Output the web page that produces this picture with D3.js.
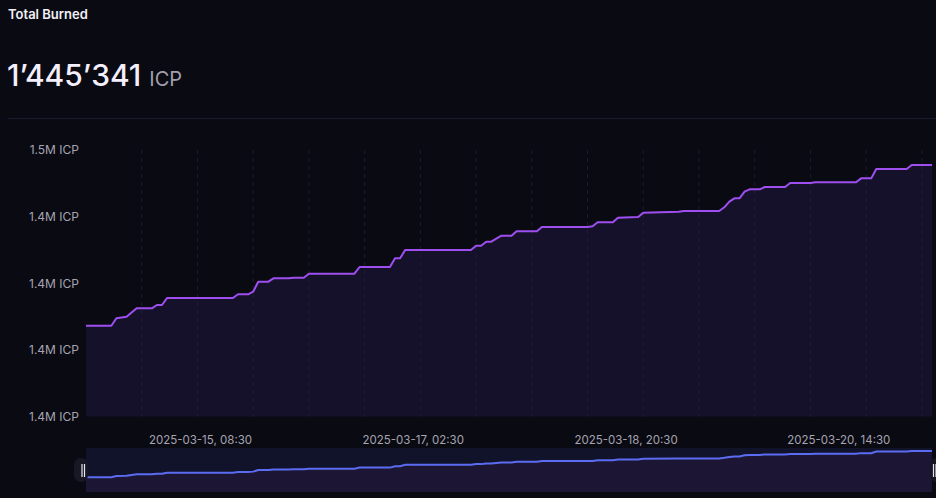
<!DOCTYPE html>
<html>
<head>
<meta charset="utf-8">
<script src="https://cdn.jsdelivr.net/npm/d3@7"></script>
<style>
    html, body { margin: 0; padding: 0; background: #0a0a13; }
    svg { display: block; font-family: Inter, "Noto Sans", sans-serif; }
</style>
</head>
<body>
<div id="chart"></div>
<script>
// hours after 2025-03-14 10:00 where the burned total changes
const hours = [0, 5, 6, 8, 10, 13, 14, 15, 16, 29, 30, 32, 33, 34, 36, 37, 40, 41, 43, 44,
    53, 54, 60, 61, 62, 63, 76, 77, 78, 79, 80, 82, 84, 85, 89, 90, 99, 100, 101, 104,
    105, 109, 110, 117, 118, 125, 126, 127, 128, 129, 130, 131, 133, 134, 138, 139, 143, 144, 152, 153,
    155, 156, 162, 163, 167];
const burned = [1385071, 1385071, 1387848, 1388448, 1391600, 1391600, 1392838, 1392838, 1395465, 1395465,
    1396853, 1396853, 1397829, 1401581, 1401581, 1402857, 1402857, 1403082, 1403082, 1404583,
    1404583, 1407097, 1407097, 1410361, 1410361, 1413476, 1413476, 1415089, 1415089, 1416590,
    1416590, 1418841, 1418841, 1420492, 1420492, 1422106, 1422106, 1422368, 1423870, 1423870,
    1425595, 1425858, 1427472, 1427847, 1428110, 1428110, 1429498, 1431599, 1432875, 1432875,
    1435352, 1436251, 1436251, 1437115, 1437115, 1438616, 1438616, 1438879, 1438879, 1440355,
    1440355, 1443869, 1443869, 1445341, 1445341];

const yTicks = [1351000, 1376000, 1401000, 1426000, 1451000];
const xTickLabels = ['2025-03-15T08:30', '2025-03-17T02:30', '2025-03-18T20:30', '2025-03-20T14:30'];
const totalBurned = 1445341;

const width = 936, height = 498;
const startTime = new Date('2025-03-14T10:00');
const endTime = new Date('2025-03-21T09:00');

const data = hours.map((h, i) => ({
    date: new Date(startTime.getTime() + h * 3600 * 1000),
    value: burned[i]
}));

const svg = d3.select('#chart')
    .append('svg')
    .attr('width', width)
    .attr('height', height);

svg.append('rect')
    .attr('width', width)
    .attr('height', height)
    .attr('fill', '#0a0a13');

// header
svg.append('text')
    .attr('x', 8)
    .attr('y', 19)
    .attr('fill', '#f2f0f7')
    .style('font-size', '13px')
    .style('font-weight', 600)
    .text('Total Burned');

const headline = svg.append('text')
    .attr('x', 7)
    .attr('y', 86)
    .attr('fill', '#f4effc');
headline.append('tspan')
    .style('font-size', '30px')
    .style('font-weight', 500)
    .text(d3.format(',')(totalBurned).replace(/,/g, '\u2019'));
headline.append('tspan')
    .attr('dx', 8)
    .attr('fill', '#a19fab')
    .style('font-size', '20px')
    .text('ICP');

svg.append('line')
    .attr('x1', 8).attr('x2', width)
    .attr('y1', 118.5).attr('y2', 118.5)
    .attr('stroke', '#1b1930');

// main chart
const x = d3.scaleTime()
    .domain([startTime, endTime])
    .range([86, 932]);

const y = d3.scaleLinear()
    .domain([yTicks[0], yTicks[yTicks.length - 1]])
    .range([416.5, 150]);

svg.append('path')
    .datum(data)
    .attr('fill', '#15112a')
    .attr('d', d3.area()
        .x(d => x(d.date))
        .y0(416.5)
        .y1(d => y(d.value)));

// dashed vertical grid every 11 hours
const gridTimes = d3.timeHour.every(1).range(startTime, endTime)
    .filter((d, i) => i % 11 === 0 && i > 0);
svg.append('g')
    .selectAll('line')
    .data(gridTimes)
    .enter()
    .append('line')
    .attr('x1', d => x(d)).attr('x2', d => x(d))
    .attr('y1', 150).attr('y2', 416.5)
    .attr('stroke', '#221f38')
    .attr('stroke-opacity', 0.8)
    .attr('stroke-dasharray', '4,4');

svg.append('path')
    .datum(data)
    .attr('fill', 'none')
    .attr('stroke', '#9f4ff0')
    .attr('stroke-width', 2)
    .attr('stroke-linejoin', 'round')
    .attr('d', d3.line()
        .x(d => x(d.date))
        .y(d => y(d.value)));

// y axis labels
svg.append('g')
    .attr('transform', 'translate(79,0)')
    .call(d3.axisLeft(y)
        .tickValues(yTicks)
        .tickSize(0)
        .tickPadding(0)
        .tickFormat(d => (d / 1e6).toFixed(1) + 'M ICP'))
    .call(g => g.select('.domain').remove())
    .call(g => g.selectAll('text')
        .attr('fill', '#a6a4b0')
        .style('font-size', '12px')
        .style('font-family', 'Inter, "Noto Sans", sans-serif'));

// x axis labels
const timeFmt = d3.timeFormat('%Y-%m-%d, %H:%M');
svg.append('g')
    .attr('transform', 'translate(0,436)')
    .call(d3.axisBottom(x)
        .tickValues(xTickLabels.map(d => new Date(d)))
        .tickSize(0)
        .tickPadding(0)
        .tickFormat(timeFmt))
    .call(g => g.select('.domain').remove())
    .call(g => g.selectAll('text')
        .attr('fill', '#a6a4b0')
        .attr('dy', '0.71em')
        .style('font-size', '11.5px')
        .style('font-family', 'Inter, "Noto Sans", sans-serif'));

// zoom slider at the bottom
const sliderTop = 448, sliderBottom = 492;
const ys = d3.scaleLinear()
    .domain(y.domain())
    .range([sliderBottom, sliderTop + 0.5]);

svg.append('rect')
    .attr('x', 86).attr('y', sliderTop)
    .attr('width', 846).attr('height', sliderBottom - sliderTop)
    .attr('fill', '#11132a');

svg.append('path')
    .datum(data)
    .attr('fill', '#1c1634')
    .attr('d', d3.area()
        .x(d => x(d.date))
        .y0(sliderBottom)
        .y1(d => ys(d.value)));

svg.append('path')
    .datum(data)
    .attr('fill', 'none')
    .attr('stroke', '#5b6cf2')
    .attr('stroke-width', 2)
    .attr('d', d3.line()
        .x(d => x(d.date))
        .y(d => ys(d.value)));

// slider handles, each one sits just outside its end of the window
[[86, -1], [932, 1]].forEach(([hx, side]) => {
    const handle = svg.append('g')
        .attr('transform', `translate(${hx},470) scale(${side},1)`);
    handle.append('rect')
        .attr('x', -2).attr('y', -12)
        .attr('width', 14).attr('height', 24)
        .attr('rx', 7)
        .attr('fill', '#181726');
    [1.5, 4].forEach(dx => {
        handle.append('line')
            .attr('x1', dx).attr('x2', dx)
            .attr('y1', -6).attr('y2', 7)
            .attr('stroke', '#e8e6f0')
            .attr('stroke-width', 1.2);
    });
});
</script>
</body>
</html>
